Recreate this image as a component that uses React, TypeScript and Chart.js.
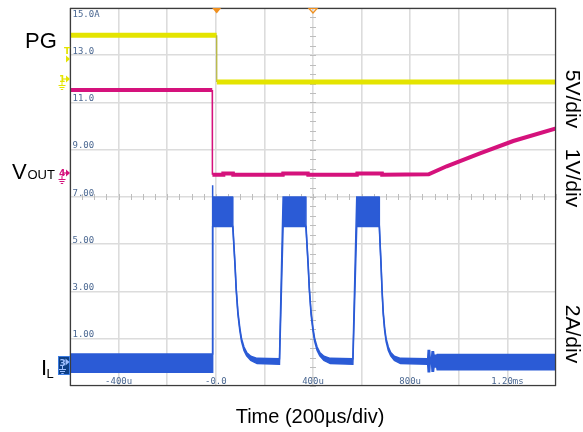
import React, { useEffect, useRef } from 'react';
import { Chart, registerables } from 'chart.js';

Chart.register(...registerables);

// ---- axis layout (scope graticule) ----
const X_MIN = -600;
const X_MAX = 1400;
const X_STEP = 200;
const Y_MIN = -1;
const Y_MAX = 15;
const Y_STEP = 2;

const xTickValues = [-400, 0, 400, 800, 1200];
const xTickLabels = ['-400u', '-0.0', '400u', '800u', '1.20ms'];
const yTickValues = [15, 13, 11, 9, 7, 5, 3, 1];
const yTickLabels = ['15.0A', '13.0', '11.0', '9.00', '7.00', '5.00', '3.00', '1.00'];

// ---- traces (time in µs) ----
const pgTime = [-600, 3.5, 4, 1400];
const pgValue = [13.85, 13.85, 11.87, 11.87];

const voutTime = [-600, -14.5, -14, 30, 31, 71, 72, 276, 277, 379, 380, 581, 582, 684, 685, 876, 950, 1087, 1224, 1400];
const voutValue = [11.53, 11.53, 7.94, 7.94, 8.0, 8.0, 7.94, 7.94, 8.0, 8.0, 7.94, 7.94, 8.0, 8.0, 7.94, 7.96, 8.3, 8.85, 9.37, 9.9];

const ilTime = [
  -600, -15, -14, -12,
  69, 70, 74, 79, 84, 91, 99, 106, 116, 127, 144, 170,
  262, 277,
  370, 371, 375, 380, 385, 392, 400, 407, 417, 428, 445, 471,
  564, 580,
  672, 673, 676, 680, 684, 689, 695, 701, 710, 720, 735, 760,
  872, 874, 880, 882, 888, 890, 896, 898, 909, 911, 1400,
];
const ilUpper = [
  0.35, 0.35, 7.5, 7.0,
  7.0, 5.85, 5.1, 4.2, 3.15, 2.15, 1.45, 1.0, 0.65, 0.42, 0.26, 0.17,
  0.15, 7.0,
  7.0, 5.85, 5.1, 4.2, 3.15, 2.15, 1.45, 1.0, 0.65, 0.42, 0.26, 0.17,
  0.15, 7.0,
  7.0, 5.85, 5.1, 4.2, 3.15, 2.15, 1.45, 1.0, 0.65, 0.42, 0.26, 0.17,
  0.15, 0.5, 0.5, 0.2, 0.2, 0.45, 0.45, 0.3, 0.3, 0.33, 0.33,
];
const ilLower = [
  -0.42, -0.42, 5.75, 5.75,
  5.75, 5.7, 4.98, 4.08, 3.03, 2.03, 1.33, 0.88, 0.5, 0.28, 0.08, -0.05,
  -0.08, 5.75,
  5.75, 5.7, 4.98, 4.08, 3.03, 2.03, 1.33, 0.88, 0.5, 0.28, 0.08, -0.05,
  -0.08, 5.75,
  5.75, 5.7, 4.98, 4.08, 3.03, 2.03, 1.33, 0.88, 0.5, 0.28, 0.08, -0.05,
  -0.08, -0.4, -0.4, -0.05, -0.05, -0.38, -0.38, -0.2, -0.2, -0.31, -0.31,
];

const triggerTime = 3.7;
const cursorTime = 400;
const centerValue = 7;

const YELLOW = '#e4e400';
const MAGENTA = '#d5127c';
const BLUE = '#2b5bd6';
const LABEL_BLUE = '#4a6791';
const ORANGE = '#f0901e';

const zip = (xs: number[], ys: number[]) => xs.map((x, i) => ({ x, y: ys[i] }));

const thinVertical = (w: number) => (ctx: any) => {
  const dx = Math.abs(ctx.p1.parsed.x - ctx.p0.parsed.x);
  const dy = Math.abs(ctx.p1.parsed.y - ctx.p0.parsed.y);
  return dx < 2 && dy > 1 ? w : undefined;
};

function ground(ctx: CanvasRenderingContext2D, x: number, y: number, color: string) {
  ctx.strokeStyle = color;
  ctx.lineWidth = 1;
  ctx.beginPath();
  ctx.moveTo(x, y - 3); ctx.lineTo(x, y);
  ctx.moveTo(x - 3.5, y + 0.5); ctx.lineTo(x + 3.5, y + 0.5);
  ctx.moveTo(x - 2.5, y + 2.5); ctx.lineTo(x + 2.5, y + 2.5);
  ctx.moveTo(x - 1.2, y + 4.5); ctx.lineTo(x + 1.2, y + 4.5);
  ctx.stroke();
}

function arrow(ctx: CanvasRenderingContext2D, x: number, y: number, color: string) {
  ctx.fillStyle = color;
  ctx.beginPath();
  ctx.moveTo(x - 4, y - 3.5);
  ctx.lineTo(x, y);
  ctx.lineTo(x - 4, y + 3.5);
  ctx.closePath();
  ctx.fill();
}

const scopeOverlay = {
  id: 'scopeOverlay',
  beforeDatasetsDraw(chart: any) {
    const { ctx, chartArea: a, scales } = chart;
    const xs = scales.x;
    const ys = scales.y;
    ctx.save();
    // center crosshair minor ticks
    ctx.strokeStyle = '#bdbdbd';
    ctx.lineWidth = 1;
    const cx = Math.round(xs.getPixelForValue(cursorTime));
    const cy = Math.round(ys.getPixelForValue(centerValue));
    ctx.beginPath();
    for (let v = Y_MIN; v <= Y_MAX + 0.01; v += Y_STEP / 5) {
      const py = Math.round(ys.getPixelForValue(v)) + 0.5;
      ctx.moveTo(cx - 3, py); ctx.lineTo(cx + 3, py);
    }
    for (let t = X_MIN; t <= X_MAX + 0.01; t += X_STEP / 4) {
      const px = Math.round(xs.getPixelForValue(t)) + 0.5;
      ctx.moveTo(px, cy - 3); ctx.lineTo(px, cy + 3);
    }
    ctx.stroke();

    // tick labels inside the graticule
    ctx.font = '9px "DejaVu Sans Mono", monospace';
    ctx.fillStyle = LABEL_BLUE;
    ctx.textAlign = 'left';
    ctx.textBaseline = 'alphabetic';
    yTickValues.forEach((v, i) => {
      const py = ys.getPixelForValue(v);
      const base = py - 10 < a.top ? py + 8.5 : py - 1.5;
      ctx.fillText(yTickLabels[i], a.left + 2.5, base);
    });
    ctx.textAlign = 'center';
    xTickValues.forEach((t, i) => {
      ctx.fillText(xTickLabels[i], xs.getPixelForValue(t), a.bottom - 1.8);
    });
    ctx.restore();
  },
  afterDraw(chart: any) {
    const { ctx, chartArea: a, scales } = chart;
    const xs = scales.x;
    ctx.save();
    // frame
    ctx.strokeStyle = '#3c3c3c';
    ctx.lineWidth = 1.2;
    ctx.strokeRect(a.left + 0.5, a.top + 0.5, a.right - a.left - 1, a.bottom - a.top - 1);

    // trigger markers
    const tx = xs.getPixelForValue(triggerTime);
    ctx.fillStyle = ORANGE;
    ctx.beginPath();
    ctx.moveTo(tx - 4.5, a.top); ctx.lineTo(tx + 4.5, a.top); ctx.lineTo(tx, a.top + 5.5); ctx.closePath();
    ctx.fill();
    const ux = xs.getPixelForValue(cursorTime);
    ctx.strokeStyle = ORANGE;
    ctx.lineWidth = 1.2;
    ctx.beginPath();
    ctx.moveTo(ux - 4, a.top + 0.5); ctx.lineTo(ux + 4, a.top + 0.5); ctx.lineTo(ux, a.top + 5); ctx.closePath();
    ctx.stroke();

    // channel markers on the left edge
    ctx.font = 'bold 9px "DejaVu Sans", sans-serif';
    ctx.textAlign = 'left';
    ctx.textBaseline = 'alphabetic';
    ctx.fillStyle = YELLOW;
    ctx.fillText('T', 64, 54);
    arrow(ctx, 70, 59, YELLOW);
    ctx.fillStyle = YELLOW;
    ctx.fillText('1', 59, 82);
    ctx.strokeStyle = YELLOW; ctx.lineWidth = 1.2;
    ctx.beginPath(); ctx.moveTo(63, 79); ctx.lineTo(66, 79); ctx.stroke();
    arrow(ctx, 70, 79, YELLOW);
    ground(ctx, 62, 85, YELLOW);

    ctx.fillStyle = MAGENTA;
    ctx.fillText('4', 59, 176);
    ctx.strokeStyle = MAGENTA; ctx.lineWidth = 1.2;
    ctx.beginPath(); ctx.moveTo(63, 173); ctx.lineTo(66, 173); ctx.stroke();
    arrow(ctx, 70, 173, MAGENTA);
    ground(ctx, 62, 179, MAGENTA);

    ctx.fillStyle = '#0d3f86';
    ctx.fillRect(58, 356, 12, 19);
    ctx.strokeStyle = '#3b7be0'; ctx.lineWidth = 1;
    ctx.strokeRect(58.5, 356.5, 11, 18);
    ctx.fillStyle = '#9fc0ff';
    ctx.fillText('3', 59.5, 366);
    arrow(ctx, 69.5, 362, '#9fc0ff');
    ground(ctx, 62.5, 369, '#9fc0ff');

    // channel names
    ctx.fillStyle = '#000';
    ctx.font = '22px "Liberation Sans", Arial, sans-serif';
    ctx.fillText('PG', 25, 48);
    ctx.fillText('V', 12, 179);
    ctx.fillText('I', 41, 375);
    ctx.font = '13px "Liberation Sans", Arial, sans-serif';
    ctx.fillText('OUT', 27.5, 179);
    ctx.fillText('L', 46.5, 378);

    // axis title
    ctx.font = '20px "Liberation Sans", Arial, sans-serif';
    ctx.textAlign = 'center';
    ctx.fillText('Time (200µs/div)', 310, 423);

    // scale labels on the right, rotated
    ctx.font = '21px "Liberation Sans", Arial, sans-serif';
    ctx.textBaseline = 'middle';
    const side = [
      ['5V/div', 99],
      ['1V/div', 178],
      ['2A/div', 334],
    ] as [string, number][];
    side.forEach(([t, py]) => {
      ctx.save();
      ctx.translate(571.5, py);
      ctx.rotate(Math.PI / 2);
      ctx.fillText(t, 0, 0);
      ctx.restore();
    });
    ctx.restore();
  },
};

export default function App() {
  const ref = useRef<HTMLCanvasElement | null>(null);
  useEffect(() => {
    document.body.style.margin = '0';
    const canvas = ref.current;
    if (!canvas) return;
    const gridOpts = {
      color: '#dcdcdc',
      lineWidth: 1.6,
      drawTicks: false,
    };
    const chart = new Chart(canvas, {
      type: 'line',
      data: {
        datasets: [
          {
            label: 'PG',
            data: zip(pgTime, pgValue),
            borderColor: YELLOW,
            borderWidth: 5,
            pointRadius: 0,
            tension: 0,
            fill: false,
            segment: {
              borderWidth: thinVertical(1.2),
              borderColor: (c: any) => (thinVertical(1)(c) ? '#b5b53a' : undefined),
            },
          },
          {
            label: 'VOUT',
            data: zip(voutTime, voutValue),
            borderColor: MAGENTA,
            borderWidth: 4,
            pointRadius: 0,
            tension: 0,
            fill: false,
            segment: { borderWidth: thinVertical(1.5) },
          },
          {
            label: 'IL upper',
            data: zip(ilTime, ilUpper),
            borderColor: BLUE,
            borderWidth: 1.5,
            pointRadius: 0,
            tension: 0,
            fill: false,
          },
          {
            label: 'IL lower',
            data: zip(ilTime, ilLower),
            borderColor: BLUE,
            backgroundColor: BLUE,
            borderWidth: 1.5,
            pointRadius: 0,
            tension: 0,
            fill: '-1',
          },
        ],
      },
      options: {
        responsive: false,
        animation: false,
        events: [],
        layout: { padding: { left: 70, right: 27, top: 8, bottom: 46 } },
        plugins: {
          legend: { display: false },
          tooltip: { enabled: false },
          title: { display: false },
        },
        scales: {
          x: {
            type: 'linear',
            min: X_MIN,
            max: X_MAX,
            ticks: { display: false, stepSize: X_STEP },
            grid: gridOpts,
            border: { display: false },
          },
          y: {
            type: 'linear',
            min: Y_MIN,
            max: Y_MAX,
            ticks: { display: false, stepSize: Y_STEP },
            grid: gridOpts,
            border: { display: false },
          },
        },
      } as any,
      plugins: [scopeOverlay],
    });
    return () => chart.destroy();
  }, []);
  return (
    <div style={{ position: 'fixed', left: 0, top: 0, width: 583, height: 432, background: '#fff' }}>
      <canvas ref={ref} width={583} height={432} style={{ display: 'block' }} />
    </div>
  );
}
